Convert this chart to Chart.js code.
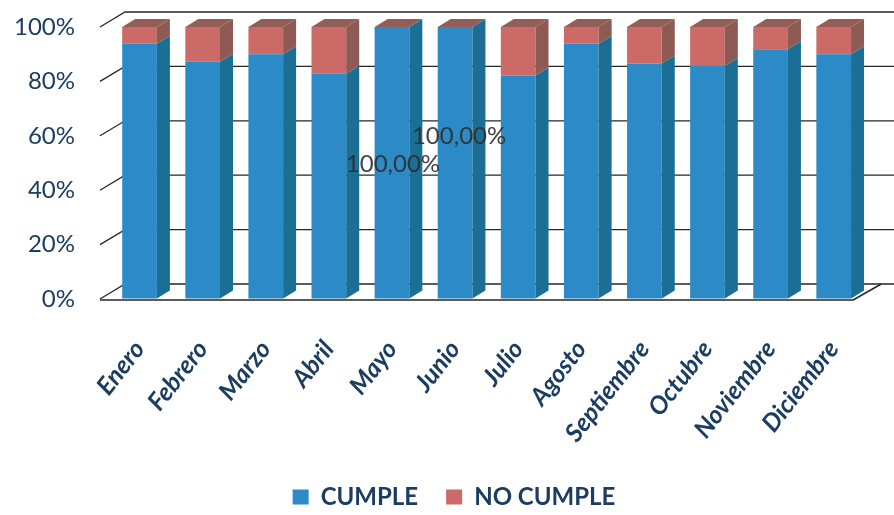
<!DOCTYPE html>
<html>
<head>
<meta charset="utf-8">
<script src="https://cdn.jsdelivr.net/npm/chart.js@4.4.1/dist/chart.umd.min.js"></script>
<style>
  html, body { margin: 0; padding: 0; background: #fff; }
  #caja { width: 894px; height: 515px; position: relative; }
</style>
</head>
<body>
<div id="caja"><canvas id="grafico"></canvas></div>
<script>
// datos (porcentaje mensual)
const meses = ['Enero', 'Febrero', 'Marzo', 'Abril', 'Mayo', 'Junio', 'Julio',
  'Agosto', 'Septiembre', 'Octubre', 'Noviembre', 'Diciembre'];
const cumple = [93.8, 87.2, 90.0, 82.8, 100, 100, 82.2, 93.8, 86.6, 85.7, 91.8, 90.0];
const noCumple = [6.2, 12.8, 10.0, 17.2, 0, 0, 17.8, 6.2, 13.4, 14.3, 8.2, 10.0];
const ticksY = [0, 20, 40, 60, 80, 100];

const azul = '#2c8bc6', azulLado = '#1b6f95';
const rojo = '#cb6a66', rojoLado = '#8d5a54', techo = '#935e57';
const navy = '#1c3d62';

// caras laterales, techo, paredes y suelo del efecto 3D
const prof = { dx: 13, dy: -8, pared: 15 };
const tresD = {
  id: 'tresD',
  afterLayout(chart) {
    // la leyenda del original queda un poco a la derecha
    chart.legend.left += 9;
    chart.legend.right += 9;
  },
  beforeDatasetsDraw(chart) {
    const { ctx, chartArea: a, scales: { y } } = chart;
    ctx.save();
    ctx.strokeStyle = '#262626';
    ctx.lineWidth = 1.3;
    ticksY.forEach(v => {
      const py = y.getPixelForValue(v);
      ctx.beginPath();
      ctx.moveTo(a.left - 8, py);
      ctx.lineTo(a.left + 17, py - prof.pared);
      ctx.lineTo(chart.width, py - prof.pared);
      ctx.stroke();
    });
    ctx.lineWidth = 1.6;
    ctx.beginPath();
    ctx.moveTo(a.left - 8, a.bottom + 1);
    ctx.lineTo(a.right - 12, a.bottom + 1);
    ctx.lineTo(a.right + 16, a.bottom - prof.pared);
    ctx.stroke();
    ctx.restore();
  },
  afterDatasetsDraw(chart) {
    const { ctx } = chart;
    const n = chart.data.datasets.length;
    ctx.save();
    for (let i = 0; i < n; i++) {
      const meta = chart.getDatasetMeta(i);
      const lado = i === 0 ? azulLado : rojoLado;
      meta.data.forEach(el => {
        const { x, y, base, width } = el.getProps(['x', 'y', 'base', 'width'], true);
        const l = x - width / 2, r = x + width / 2;
        ctx.fillStyle = lado;
        ctx.beginPath();
        ctx.moveTo(r, y);
        ctx.lineTo(r + prof.dx, y + prof.dy);
        ctx.lineTo(r + prof.dx, base + prof.dy);
        ctx.lineTo(r, base);
        ctx.closePath();
        ctx.fill();
        if (i === n - 1) {
          ctx.fillStyle = techo;
          ctx.beginPath();
          ctx.moveTo(l, y);
          ctx.lineTo(l + prof.dx, y + prof.dy);
          ctx.lineTo(r + prof.dx, y + prof.dy);
          ctx.lineTo(r, y);
          ctx.closePath();
          ctx.fill();
        }
      });
    }
    // etiquetas 100,00%
    const desplaza = { 4: [1, 2], 5: [4, -26] };
    const meta0 = chart.getDatasetMeta(0);
    ctx.font = '24px Lato';
    ctx.fillStyle = 'rgba(45,45,45,0.9)';
    ctx.textAlign = 'center';
    ctx.textBaseline = 'middle';
    cumple.forEach((v, j) => {
      if (v < 100) return;
      const el = meta0.data[j];
      const { x, y, base } = el.getProps(['x', 'y', 'base'], true);
      const d = desplaza[j] || [0, 0];
      ctx.fillText(v.toFixed(2).replace('.', ',') + '%', x + d[0], (y + base) / 2 + d[1]);
    });
    ctx.restore();
  }
};

new Chart(document.getElementById('grafico'), {
  type: 'bar',
  data: {
    labels: meses,
    datasets: [{
      label: 'CUMPLE',
      data: cumple,
      backgroundColor: azul,
      borderWidth: 0,
      barPercentage: 0.55,
      categoryPercentage: 1
    }, {
      label: 'NO CUMPLE',
      data: noCumple,
      backgroundColor: rojo,
      borderWidth: 0,
      barPercentage: 0.55,
      categoryPercentage: 1
    }]
  },
  options: {
    responsive: true,
    maintainAspectRatio: false,
    animation: false,
    layout: { padding: { top: 27, right: 16, left: 12, bottom: -4 } },
    plugins: {
      legend: {
        position: 'bottom',
        labels: {
          boxWidth: 16,
          boxHeight: 15,
          padding: 28,
          color: navy,
          font: { family: 'Lato', size: 24, weight: 'bold' }
        }
      },
      tooltip: { enabled: false }
    },
    scales: {
      x: {
        stacked: true,
        grid: { display: false, drawTicks: false },
        border: { display: false },
        ticks: {
          color: navy,
          padding: 36,
          minRotation: 52,
          maxRotation: 52,
          font: { family: 'Lato', size: 25, weight: 'bold', style: 'italic' }
        },
        afterFit(scale) { scale.height = 158; }
      },
      y: {
        stacked: true,
        min: 0,
        max: 100,
        grid: { display: true, color: 'transparent', drawOnChartArea: false, drawTicks: true, tickLength: 29 },
        border: { display: false },
        ticks: {
          stepSize: 20,
          padding: 4,
          color: navy,
          font: { family: 'Lato', size: 24 },
          callback: v => v + '%'
        },
        afterFit(scale) { scale.width = 96; }
      }
    }
  },
  plugins: [tresD]
});
</script>
</body>
</html>
